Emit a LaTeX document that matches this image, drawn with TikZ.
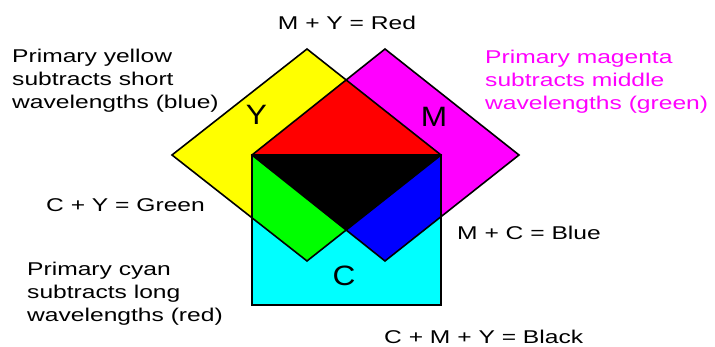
\documentclass[tikz,border=0pt]{standalone}
\usepackage{fontspec}
\setmainfont{Liberation Sans}
% Wide faces to match the stretched lettering of the picture
\newfontfamily\wideFont[FakeStretch=1.33]{Liberation Sans}
\newfontfamily\bigFont[FakeStretch=1.13]{Liberation Sans}

\definecolor{cmyYellow}{RGB}{255,255,0}
\definecolor{cmyMagenta}{RGB}{255,0,255}
\definecolor{cmyCyan}{RGB}{0,255,255}
\definecolor{mixRed}{RGB}{255,0,0}
\definecolor{mixGreen}{RGB}{0,255,0}
\definecolor{mixBlue}{RGB}{0,0,255}

\begin{document}
\begin{tikzpicture}[
    x=1pt, y=1pt,
    % Define the style for the outlines of the three primaries
    outlineStyle/.style={
        draw=black,
        line width=1.6pt,
        line join=miter
    },
    % Define the style for the big letters inside the shapes
    bigLabel/.style={
        font=\bigFont\fontsize{28}{32}\selectfont,
        inner sep=0pt
    },
    % Define the style for the explanatory texts
    txtLabel/.style={
        font=\wideFont\fontsize{18.5}{23}\selectfont,
        align=left,
        inner sep=0pt,
        anchor=base west
    }
]
    \useasboundingbox (0,0) rectangle (715,347);

    % --- COORDINATE DEFINITIONS ---
    % Yellow and magenta diamonds, cyan square
    \def\yellowPath{(172,192) -- (307,298) -- (441,192) -- (307,86) -- cycle}
    \def\magentaPath{(252,192) -- (385,298) -- (519,192) -- (385,86) -- cycle}
    \def\cyanPath{(252,192) rectangle (441,42)}

    % --- PRIMARIES ---
    \fill[cmyYellow] \yellowPath;
    \fill[cmyMagenta] \magentaPath;
    \fill[cmyCyan] \cyanPath;

    % --- MIXTURES ---
    % Yellow with magenta (red), yellow with cyan (green)
    \begin{scope}
        \clip \yellowPath;
        \fill[mixRed] \magentaPath;
        \fill[mixGreen] \cyanPath;
    \end{scope}
    % Magenta with cyan (blue), all three (black)
    \begin{scope}
        \clip \magentaPath;
        \fill[mixBlue] \cyanPath;
        \clip \yellowPath;
        \fill[black] \cyanPath;
    \end{scope}

    % --- OUTLINES ---
    \draw[outlineStyle] \yellowPath;
    \draw[outlineStyle] \magentaPath;
    \draw[outlineStyle] \cyanPath;

    % --- LETTERS ---
    \node[bigLabel] (letY) at (256.5,232) {Y};
    \node[bigLabel] (letM) at (434,230) {M};
    \node[bigLabel] (letC) at (344,71) {C};

    % --- TEXTS ---
    \node[txtLabel, anchor=base] (myRed) at (347,317) {M + Y = Red};
    \node[txtLabel] (priYellow) at (12,238)
        {Primary yellow\\subtracts short\\wavelengths (blue)};
    \node[txtLabel, text=cmyMagenta] (priMagenta) at (485,237)
        {Primary magenta\\subtracts middle\\wavelengths (green)};
    \node[txtLabel] (cyGreen) at (46,135) {C + Y = Green};
    \node[txtLabel] (priCyan) at (27,25)
        {Primary cyan\\subtracts long\\wavelengths (red)};
    \node[txtLabel] (mcBlue) at (457,107) {M + C = Blue};
    \node[txtLabel] (cmyBlack) at (384,3) {C + M + Y = Black};

\end{tikzpicture}
\end{document}
